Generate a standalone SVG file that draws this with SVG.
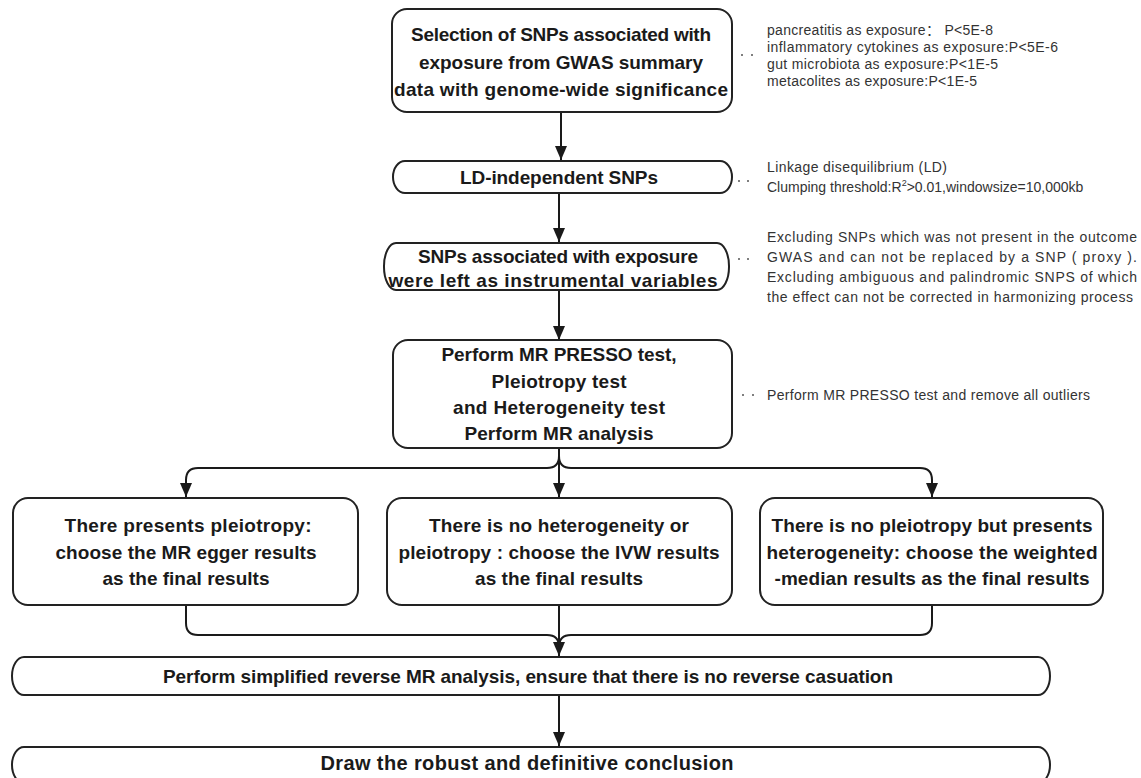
<svg xmlns="http://www.w3.org/2000/svg" width="1141" height="778" viewBox="0 0 1141 778">
<defs>
<style>
.box{fill:#fff;stroke:#222;stroke-width:2}
.t{font-family:"Liberation Sans",Arial,sans-serif;font-weight:bold;font-size:19px;fill:#1a1a1a;text-anchor:middle}
.n{font-family:"Liberation Sans",Arial,"Noto Sans CJK SC",sans-serif;font-size:14px;fill:#333}
.c{fill:none;stroke:#1a1a1a;stroke-width:2}
.d{fill:#555}
</style>
<marker id="ah" markerUnits="userSpaceOnUse" markerWidth="14" markerHeight="12" refX="14" refY="6" orient="auto">
<path d="M0,0 L14,6 L0,12 z" fill="#1a1a1a"/>
</marker>
</defs>
<rect width="1141" height="778" fill="#fff"/>

<g id="connectors">
<path class="c" d="M561,112 V160" marker-end="url(#ah)"/>
<path class="c" d="M559,193 V242" marker-end="url(#ah)"/>
<path class="c" d="M559,290 V340" marker-end="url(#ah)"/>
<path class="c" d="M559,448 V497" marker-end="url(#ah)"/>
<path class="c" d="M559,456 Q559,468 547,468 H198 Q186,468 186,480 V497" marker-end="url(#ah)"/>
<path class="c" d="M559,456 Q559,468 571,468 H920 Q932,468 932,480 V497" marker-end="url(#ah)"/>
<path class="c" d="M186,605 V623 Q186,635 198,635 H547 Q559,635 559,647"/>
<path class="c" d="M932,605 V623 Q932,635 920,635 H571 Q559,635 559,647"/>
<path class="c" d="M559,605 V656" marker-end="url(#ah)"/>
<path class="c" d="M559,695 V746" marker-end="url(#ah)"/>
<circle class="d" cx="742" cy="55" r="1"/><circle class="d" cx="752" cy="55" r="1"/>
<circle class="d" cx="739" cy="181" r="1"/><circle class="d" cx="748" cy="181" r="1"/>
<circle class="d" cx="739" cy="259" r="1"/><circle class="d" cx="748" cy="259" r="1"/>
<circle class="d" cx="743" cy="395" r="1"/><circle class="d" cx="753" cy="395" r="1"/>
</g>

<g id="n1">
<rect class="box" x="392" y="9" width="340" height="103" rx="15"/>
<text class="t" x="561" y="41" textLength="300">Selection of SNPs associated with</text>
<text class="t" x="561" y="69" textLength="284">exposure from GWAS summary</text>
<text class="t" x="561" y="96" textLength="334">data with genome-wide significance</text>
</g>
<g id="note1">
<text class="n" x="767" y="35" textLength="226">pancreatitis as exposure： P&lt;5E-8</text>
<text class="n" x="767" y="52" textLength="291">inflammatory cytokines as exposure:P&lt;5E-6</text>
<text class="n" x="767" y="69" textLength="231">gut microbiota as exposure:P&lt;1E-5</text>
<text class="n" x="767" y="86" textLength="210">metacolites as exposure:P&lt;1E-5</text>
</g>

<g id="n2">
<rect class="box" x="393" y="161" width="339" height="32" rx="12" ry="16"/>
<text class="t" x="559" y="184" textLength="198">LD-independent SNPs</text>
</g>
<g id="note2">
<text class="n" x="767" y="172" textLength="180">Linkage disequilibrium (LD)</text>
<text class="n" x="767" y="192">Clumping threshold:R<tspan dy="-6" font-size="9">2</tspan><tspan dy="6">&gt;0.01,windowsize=10,000kb</tspan></text>
</g>

<g id="n3">
<rect class="box" x="384" y="243" width="345" height="47" rx="12" ry="23"/>
<text class="t" x="558" y="263" textLength="280">SNPs associated with exposure</text>
<text class="t" x="553" y="287" textLength="329">were left as instrumental variables</text>
</g>
<g id="note3">
<text class="n" x="767" y="242" textLength="370">Excluding SNPs which was not present in the outcome</text>
<text class="n" x="767" y="262" textLength="370">GWAS  and  can  not  be  replaced  by  a  SNP  ( proxy ).</text>
<text class="n" x="767" y="282" textLength="370">Excluding ambiguous and palindromic SNPS of which</text>
<text class="n" x="767" y="302" textLength="366">the effect can not be corrected in harmonizing process</text>
</g>

<g id="n4">
<rect class="box" x="393" y="340" width="339" height="108" rx="15"/>
<text class="t" x="559" y="361" textLength="235">Perform MR PRESSO test,</text>
<text class="t" x="559" y="388" textLength="135">Pleiotropy test</text>
<text class="t" x="559" y="414" textLength="212">and Heterogeneity test</text>
<text class="t" x="559" y="440" textLength="189">Perform MR analysis</text>
</g>
<g id="note4">
<text class="n" x="767" y="400" textLength="323">Perform MR PRESSO test and remove all outliers</text>
</g>

<g id="n5">
<rect class="box" x="13" y="498" width="345" height="107" rx="15"/>
<text class="t" x="188" y="532" textLength="247">There presents pleiotropy:</text>
<text class="t" x="186" y="559" textLength="261">choose the MR egger results</text>
<text class="t" x="186" y="585" textLength="167">as the final results</text>
</g>

<g id="n6">
<rect class="box" x="387" y="498" width="345" height="107" rx="15"/>
<text class="t" x="559" y="532" textLength="260">There is no heterogeneity or</text>
<text class="t" x="559" y="559" textLength="321">pleiotropy : choose the IVW results</text>
<text class="t" x="559" y="585" textLength="168">as the final results</text>
</g>

<g id="n7">
<rect class="box" x="760" y="498" width="343" height="107" rx="15"/>
<text class="t" x="932" y="532" textLength="321">There is no pleiotropy but presents</text>
<text class="t" x="932" y="559" textLength="331">heterogeneity: choose the weighted</text>
<text class="t" x="932" y="585" textLength="315">-median results as the final results</text>
</g>

<g id="n8">
<rect class="box" x="12" y="657" width="1038" height="38" rx="12" ry="19"/>
<text class="t" x="528" y="683" textLength="730">Perform simplified reverse MR analysis, ensure that there is no reverse casuation</text>
</g>

<g id="n9">
<rect class="box" x="12" y="747" width="1038" height="36" rx="12" ry="18"/>
<text class="t" x="527" y="770" textLength="413" style="font-size:20px">Draw the robust and definitive conclusion</text>
</g>
</svg>
